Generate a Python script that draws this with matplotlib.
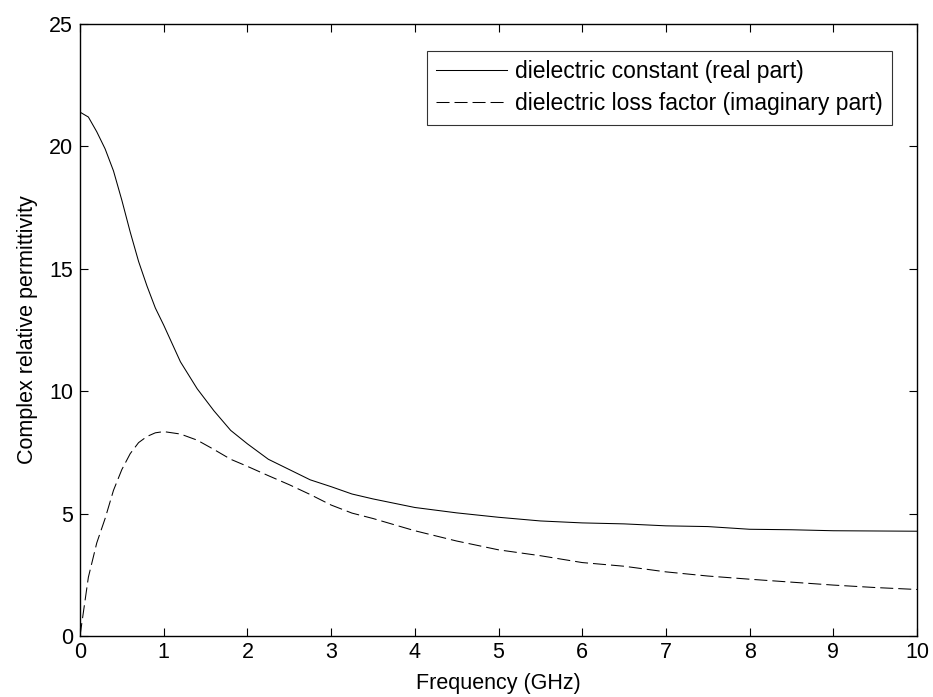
import matplotlib
matplotlib.use('Agg')
import matplotlib.pyplot as plt

# frequency points (GHz) and readings
freq = [0, 0.1, 0.2, 0.3, 0.4, 0.5, 0.6, 0.7, 0.8, 0.9, 1.0, 1.2, 1.4, 1.6,
        1.8, 2.0, 2.25, 2.5, 2.75, 3.0, 3.25, 3.5, 4.0, 4.5, 5.0, 5.5, 6.0,
        6.5, 7.0, 7.5, 8.0, 8.5, 9.0, 9.5, 10.0]
real_part = [21.4, 21.2, 20.6, 19.9, 19.0, 17.8, 16.5, 15.3, 14.3, 13.4,
             12.7, 11.2, 10.1, 9.2, 8.4, 7.85, 7.22, 6.8, 6.38, 6.1, 5.8,
             5.6, 5.25, 5.03, 4.85, 4.7, 4.62, 4.58, 4.5, 4.47, 4.36, 4.34,
             4.3, 4.29, 4.28]
imag_part = [0.0, 2.4, 3.8, 4.8, 5.95, 6.8, 7.45, 7.9, 8.15, 8.3, 8.35,
             8.25, 8.0, 7.62, 7.22, 6.93, 6.55, 6.18, 5.78, 5.35, 5.02, 4.8,
             4.3, 3.88, 3.52, 3.28, 3.0, 2.85, 2.62, 2.45, 2.32, 2.2, 2.08,
             1.98, 1.9]

plt.rcParams['font.family'] = ['Liberation Sans', 'DejaVu Sans']
plt.rcParams['font.size'] = 16

W, H = 933, 697
fig = plt.figure(figsize=(W / 100, H / 100), dpi=100)
ax = fig.add_axes([80 / W, (H - 636) / H, (917 - 80) / W, (636 - 24) / H])

ax.plot(freq, real_part, color='k', lw=0.75, label='dielectric constant (real part)')
ax.plot(freq, imag_part, color='k', lw=0.75, dashes=(12.5, 4.8),
        label='dielectric loss factor (imaginary part)')

ax.set_xlim(0, 10)
ax.set_ylim(0, 25)
ax.set_xticks(range(0, 11))
ax.set_yticks(range(0, 26, 5))
ax.tick_params(direction='in', length=5.5, width=0.8, top=True, right=True,
               labelsize=15.5)
ax.tick_params(axis='x', pad=4.5)
ax.tick_params(axis='y', pad=5)
for s in ax.spines.values():
    s.set_linewidth(1.0)

ax.set_xlabel('Frequency (GHz)', fontsize=15.5, labelpad=7)
ax.set_ylabel('Complex relative permittivity', fontsize=15.5, labelpad=8)

leg = ax.legend(loc='upper right', bbox_to_anchor=(892 / W, (H - 51) / H),
                bbox_transform=fig.transFigure, fontsize=16.5, frameon=True,
                fancybox=False, handlelength=3.1, handletextpad=0.35,
                borderpad=0.4, labelspacing=0.4, borderaxespad=0)
leg.get_frame().set_edgecolor('k')
leg.get_frame().set_linewidth(0.8)

fig.savefig('out.png', dpi=100)
